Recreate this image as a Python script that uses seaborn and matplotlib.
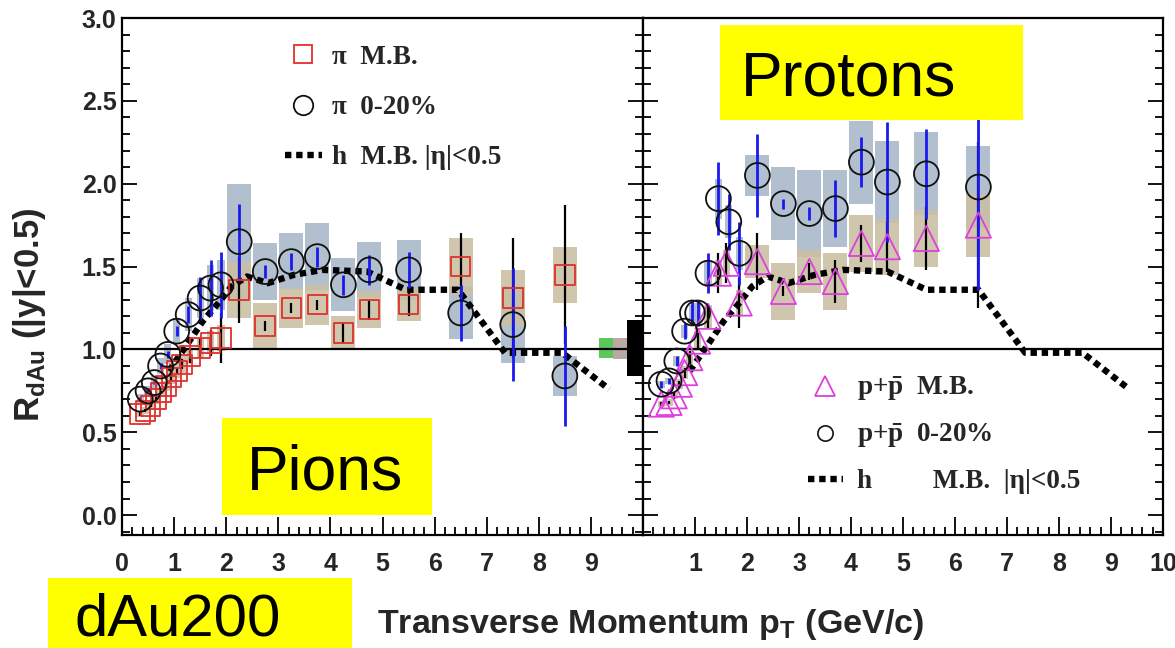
import numpy as np
import matplotlib
matplotlib.use("Agg")
import matplotlib.pyplot as plt
from matplotlib.lines import Line2D
from matplotlib.patches import Rectangle
from matplotlib.ticker import MultipleLocator, FormatStrFormatter
from matplotlib.font_manager import FontProperties
import seaborn as sns

# ---------------- data ----------------
# charged hadrons, M.B., |eta|<0.5 (dotted curve, drawn in both panels)
h_pt = [0.9, 1.25, 1.55, 1.85, 2.1, 2.4, 2.8, 3.3, 3.85, 4.7, 5.45, 6.45, 7.35, 8.45, 9.35]
h_R = [0.87, 1.03, 1.17, 1.28, 1.38, 1.44, 1.40, 1.45, 1.48, 1.47, 1.36, 1.36, 0.98, 0.98, 0.76]

# pions, minimum bias (red squares)
pi_mb_pt = [0.35, 0.45, 0.55, 0.65, 0.75, 0.85, 0.95, 1.05, 1.15, 1.3, 1.5, 1.7, 1.9,
            2.25, 2.75, 3.25, 3.75, 4.25, 4.75, 5.5, 6.5, 7.5, 8.5]
pi_mb_R = [0.61, 0.63, 0.66, 0.70, 0.74, 0.78, 0.83, 0.87, 0.91, 0.96, 1.01, 1.04, 1.07,
           1.36, 1.14, 1.25, 1.27, 1.10, 1.24, 1.27, 1.50, 1.31, 1.45]
pi_mb_stat = [0.01, 0.01, 0.01, 0.01, 0.01, 0.02, 0.02, 0.02, 0.03, 0.04, 0.06, 0.08, 0.15,
              0.20, 0.03, 0.03, 0.03, 0.06, 0.06, 0.07, 0.20, 0.36, 0.42]
pi_mb_sys = [0.02, 0.02, 0.02, 0.03, 0.03, 0.03, 0.04, 0.04, 0.05, 0.05, 0.06, 0.07, 0.08,
             0.17, 0.14, 0.12, 0.12, 0.10, 0.11, 0.10, 0.17, 0.17, 0.17]

# pions, 0-20% central (black circles)
pi_c_pt = [0.35, 0.5, 0.62, 0.74, 0.88, 1.05, 1.27, 1.5, 1.7, 1.9,
           2.25, 2.75, 3.25, 3.75, 4.25, 4.75, 5.5, 6.5, 7.5, 8.5]
pi_c_R = [0.70, 0.75, 0.80, 0.90, 0.97, 1.11, 1.21, 1.31, 1.37, 1.39,
          1.65, 1.47, 1.53, 1.56, 1.39, 1.48, 1.48, 1.22, 1.15, 0.84]
pi_c_stat = [0.01, 0.01, 0.01, 0.02, 0.02, 0.03, 0.05, 0.13, 0.17, 0.20,
             0.23, 0.04, 0.05, 0.06, 0.06, 0.09, 0.11, 0.17, 0.34, 0.30]
pi_c_sys = [0.03, 0.03, 0.04, 0.05, 0.06, 0.08, 0.10, 0.12, 0.14, 0.15,
            0.35, 0.17, 0.17, 0.20, 0.16, 0.17, 0.18, 0.16, 0.23, 0.12]

# protons, minimum bias (magenta triangles)
p_mb_pt = [0.35, 0.5, 0.6, 0.7, 0.8, 0.9, 1.05, 1.25, 1.45, 1.6, 1.85,
           2.2, 2.7, 3.2, 3.7, 4.2, 4.7, 5.45, 6.45]
p_mb_R = [0.67, 0.68, 0.72, 0.79, 0.86, 0.95, 1.05, 1.20, 1.46, 1.52, 1.28,
          1.53, 1.35, 1.47, 1.41, 1.64, 1.62, 1.67, 1.75]
p_mb_stat = [0.01, 0.01, 0.02, 0.02, 0.03, 0.04, 0.05, 0.07, 0.12, 0.12, 0.15,
             0.17, 0.03, 0.05, 0.13, 0.11, 0.15, 0.19, 0.50]
p_mb_sys = [0.02, 0.02, 0.02, 0.03, 0.04, 0.05, 0.06, 0.07, 0.08, 0.08, 0.08,
            0.10, 0.17, 0.13, 0.17, 0.17, 0.17, 0.17, 0.19]

# protons, 0-20% central (black circles)
p_c_pt = [0.35, 0.5, 0.65, 0.8, 0.95, 1.05, 1.25, 1.45, 1.65, 1.85,
          2.2, 2.7, 3.2, 3.7, 4.2, 4.7, 5.45, 6.45]
p_c_R = [0.79, 0.81, 0.93, 1.11, 1.22, 1.22, 1.46, 1.91, 1.77, 1.58,
         2.05, 1.88, 1.82, 1.85, 2.13, 2.01, 2.06, 1.98]
p_c_stat = [0.02, 0.02, 0.03, 0.05, 0.07, 0.08, 0.12, 0.22, 0.17, 0.19,
            0.25, 0.03, 0.04, 0.17, 0.15, 0.36, 0.27, 0.62]
p_c_sys = [0.02, 0.02, 0.03, 0.04, 0.05, 0.06, 0.08, 0.12, 0.10, 0.10,
           0.125, 0.22, 0.26, 0.23, 0.25, 0.25, 0.25, 0.25]

# normalisation uncertainty boxes at R=1 (right edge of pion panel)
norm_x = [9.29, 9.565, 9.9]
norm_lo = [0.95, 0.94, 0.84]
norm_hi = [1.07, 1.07, 1.18]
norm_colors = ["#5cc85c", "#b9a9a4", "#000000"]

x_ticks_left = [0, 1, 2, 3, 4, 5, 6, 7, 8, 9]
x_ticks_right = [1, 2, 3, 4, 5, 6, 7, 8, 9, 10]
y_ticks = [0.0, 0.5, 1.0, 1.5, 2.0, 2.5, 3.0]

# ---------------- style ----------------
sns.set_theme(style="ticks")
plt.rcParams["font.family"] = ["Liberation Sans", "DejaVu Sans"]
plt.rcParams["font.weight"] = "bold"
plt.rcParams["mathtext.fontset"] = "custom"
plt.rcParams["mathtext.rm"] = "Liberation Serif:bold"
plt.rcParams["mathtext.bf"] = "Liberation Serif:bold"
plt.rcParams["mathtext.sf"] = "Liberation Sans:bold"
plt.rcParams["axes.linewidth"] = 1.6

C_BOX_C = "#a9b8ca"
C_BOX_MB = "#cbc0a4"
C_RED = "#e0302c"
C_MAG = "#dd3fdd"
C_BLUE = "#1a1aee"

fig = plt.figure(figsize=(11.75, 6.48), dpi=100)
W, H = 1175.0, 648.0
ax_bot, ax_top = 535.0, 18.0
axL = fig.add_axes([122 / W, (H - ax_bot) / H, (643 - 122) / W, (ax_bot - ax_top) / H])
axR = fig.add_axes([643 / W, (H - ax_bot) / H, (1163 - 643) / W, (ax_bot - ax_top) / H])


def boxes(ax, pt, R, sys, color, z=1):
    pt = np.asarray(pt); R = np.asarray(R); sys = np.asarray(sys)
    w = np.where(pt > 2.0, 0.46, 0.14)
    ax.bar(pt, 2 * sys, bottom=R - sys, width=w, color=color, alpha=0.9,
           linewidth=0, zorder=z)


def errs(ax, pt, R, err, color, lw):
    ax.errorbar(pt, R, yerr=err, fmt="none", ecolor=color, elinewidth=lw,
                capsize=0, zorder=4)


def hcurve(ax):
    sns.lineplot(x=h_pt, y=h_R, ax=ax, color="black", lw=4.6, sort=False,
                 estimator=None, linestyle=(0, (1.0, 0.75)), zorder=3,
                 dash_capstyle="butt")


# ---- left panel: pions ----
boxes(axL, pi_c_pt, pi_c_R, pi_c_sys, C_BOX_C)
boxes(axL, pi_mb_pt, pi_mb_R, pi_mb_sys, C_BOX_MB)
for x, lo, hi, c in zip(norm_x, norm_lo, norm_hi, norm_colors):
    wd = 0.4 if c == "#000000" else 0.27
    axL.bar([x], [hi - lo], bottom=[lo], width=wd, color=c, linewidth=0,
            zorder=2 if c != "#000000" else 6, clip_on=False)
axL.axhline(1.0, color="black", lw=1.6, zorder=2)
hcurve(axL)
errs(axL, pi_mb_pt, pi_mb_R, pi_mb_stat, "black", 1.6)
errs(axL, pi_c_pt, pi_c_R, pi_c_stat, C_BLUE, 2.0)
sns.scatterplot(x=pi_mb_pt, y=pi_mb_R, ax=axL, marker="s", s=200,
                facecolor="none", edgecolor=C_RED, linewidth=1.3, zorder=5, legend=False)
sns.scatterplot(x=pi_c_pt, y=pi_c_R, ax=axL, marker="o", s=320,
                facecolor="none", edgecolor="#111111", linewidth=1.3, zorder=5, legend=False)

# ---- right panel: protons ----
boxes(axR, p_c_pt, p_c_R, p_c_sys, C_BOX_C)
boxes(axR, p_mb_pt, p_mb_R, p_mb_sys, C_BOX_MB)
axR.axhline(1.0, color="black", lw=1.6, zorder=2)
hcurve(axR)
errs(axR, p_mb_pt, p_mb_R, p_mb_stat, "black", 1.6)
errs(axR, p_c_pt, p_c_R, p_c_stat, C_BLUE, 2.0)
sns.scatterplot(x=p_mb_pt, y=p_mb_R, ax=axR, marker="^", s=330,
                facecolor="none", edgecolor=C_MAG, linewidth=1.3, zorder=5, legend=False)
sns.scatterplot(x=p_c_pt, y=p_c_R, ax=axR, marker="o", s=320,
                facecolor="none", edgecolor="#111111", linewidth=1.3, zorder=5, legend=False)

# ---- axes formatting ----
for ax, xt in ((axL, x_ticks_left), (axR, x_ticks_right)):
    ax.set_xlim(0, 10)
    ax.set_ylim(-0.12, 3.0)
    ax.set_xticks(xt)
    ax.set_yticks(y_ticks)
    ax.xaxis.set_minor_locator(MultipleLocator(0.2))
    ax.yaxis.set_minor_locator(MultipleLocator(0.1))
    ax.yaxis.set_major_formatter(FormatStrFormatter("%.1f"))
    ax.tick_params(which="both", direction="in", left=True, right=True,
                   top=False, bottom=True, width=1.3, color="black")
    ax.tick_params(axis="y", which="major", length=11)
    ax.tick_params(axis="y", which="minor", length=5.5)
    ax.tick_params(axis="x", which="major", length=13, pad=12)
    ax.tick_params(axis="x", which="minor", length=6)
    ax.tick_params(labelsize=18)
    ax.set_xlabel("")
    ax.set_ylabel("")
    for s in ax.spines.values():
        s.set_visible(True)
        s.set_color("black")
        s.set_linewidth(1.6)
    ax.set_facecolor("white")
axR.tick_params(labelleft=False)
axL.tick_params(axis="y", pad=4)

# ---- legends ----
lfont = FontProperties(family="Liberation Serif", weight="bold", size=19.5)
hdl_L = [
    Line2D([], [], ls="none", marker="s", ms=13, mfc="none", mec=C_RED, mew=1.3),
    Line2D([], [], ls="none", marker="o", ms=14, mfc="none", mec="#111111", mew=1.3),
    Line2D([], [], color="black", lw=4.6, ls=(0, (1.0, 0.75))),
]
axL.legend(hdl_L, ["\u03c0  M.B.", "\u03c0  0-20%", "h  M.B. |\u03b7|<0.5"],
           loc="upper left", bbox_to_anchor=(0.313, 0.948), frameon=False,
           prop=lfont, handlelength=1.35, handletextpad=0.4, labelspacing=0.93,
           borderpad=0, borderaxespad=0)

hdl_R = [
    Line2D([], [], ls="none", marker="^", ms=15, mfc="none", mec=C_MAG, mew=1.3),
    Line2D([], [], ls="none", marker="o", ms=11, mfc="none", mec="#111111", mew=1.2),
    Line2D([], [], color="black", lw=4.6, ls=(0, (1.0, 0.75))),
]
axR.legend(hdl_R, ["p+$\\mathbf{\\bar{p}}$  M.B.", "p+$\\mathbf{\\bar{p}}$  0-20%",
                   "h         M.B.  |\u03b7|<0.5"],
           loc="upper left", bbox_to_anchor=(0.317, 0.31), frameon=False,
           prop=lfont, handlelength=1.3, handletextpad=0.5, labelspacing=0.7,
           borderpad=0, borderaxespad=0)

# ---- axis titles ----
fig.text(651 / W, (H - 633) / H, "Transverse Momentum p$_\\mathsf{T}$ (GeV/c)",
         ha="center", va="baseline", fontsize=24.5, fontweight="bold")
fig.text(29 / W, (H - 315) / H, "R$_\\mathsf{dAu}$ (|y|<0.5)", rotation=90,
         ha="center", va="center", fontsize=25, fontweight="bold")

# ---- yellow annotation boxes ----
def ybox(x0, y0, x1, y1, txt, bx, by, fs=45):
    fig.add_artist(Rectangle((x0 / W, (H - y1) / H), (x1 - x0) / W, (y1 - y0) / H,
                             transform=fig.transFigure, facecolor="#ffff00",
                             edgecolor="none", zorder=20))
    fig.text(bx / W, (H - by) / H, txt, ha="center", va="baseline", fontsize=fs,
             fontweight="normal", color="black", zorder=21,
             family=["Liberation Sans", "DejaVu Sans"])

ybox(720, 25, 1023, 120, "Protons", 849, 95)
ybox(222, 418, 432, 515, "Pions", 325, 489)
ybox(48, 578, 352, 660, "dAu200", 178, 636, fs=43)

fig.savefig("out.png", dpi=100)
